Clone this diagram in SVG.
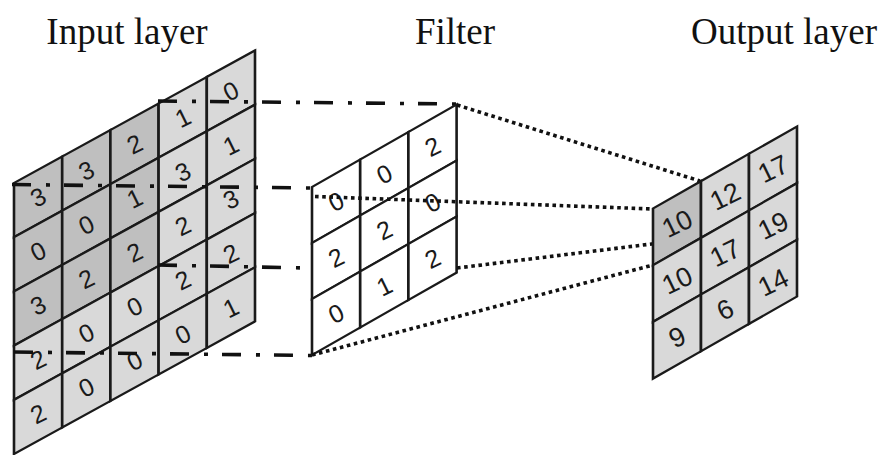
<svg xmlns="http://www.w3.org/2000/svg" width="888" height="455" viewBox="0 0 888 455">
  <style>
    .title { font-family: "Liberation Serif", "Times New Roman", serif; font-size: 37px; fill: #111; text-anchor: middle; }
    .cell { stroke: #1a1a1a; stroke-width: 2.6; stroke-linejoin: miter; }
    .light { fill: #d9d9d9; }
    .dark { fill: #bfbfbf; }
    .white { fill: #ffffff; }
    .num { font-family: "Liberation Sans", Arial, sans-serif; fill: #1a1a1a; text-anchor: middle; }
    .in { font-size: 25px; }
    .out { font-size: 27px; }
    .dashdot { stroke: #111; stroke-width: 3.6; fill: none; stroke-dasharray: 19 15 4 14; }
    .dotted { stroke: #111; stroke-width: 3.6; fill: none; stroke-dasharray: 3.6 3.6; }
  </style>

  <!-- Titles -->
  <text class="title" x="127" y="44">Input layer</text>
  <text class="title" x="455" y="44">Filter</text>
  <text class="title" x="784" y="44">Output layer</text>

  <!-- Input layer: 5x5 grid on a sheared plane -->
  <g id="input-layer">
    <g transform="matrix(1,-0.55,0,1,14,183)">
      <rect class="cell dark" x="0" y="0" width="48.2" height="54.2"/>
      <rect class="cell dark" x="48.2" y="0" width="48.2" height="54.2"/>
      <rect class="cell dark" x="96.4" y="0" width="48.2" height="54.2"/>
      <rect class="cell light" x="144.6" y="0" width="48.2" height="54.2"/>
      <rect class="cell light" x="192.8" y="0" width="48.2" height="54.2"/>
      <rect class="cell dark" x="0" y="54.2" width="48.2" height="54.2"/>
      <rect class="cell dark" x="48.2" y="54.2" width="48.2" height="54.2"/>
      <rect class="cell dark" x="96.4" y="54.2" width="48.2" height="54.2"/>
      <rect class="cell light" x="144.6" y="54.2" width="48.2" height="54.2"/>
      <rect class="cell light" x="192.8" y="54.2" width="48.2" height="54.2"/>
      <rect class="cell dark" x="0" y="108.4" width="48.2" height="54.2"/>
      <rect class="cell dark" x="48.2" y="108.4" width="48.2" height="54.2"/>
      <rect class="cell dark" x="96.4" y="108.4" width="48.2" height="54.2"/>
      <rect class="cell light" x="144.6" y="108.4" width="48.2" height="54.2"/>
      <rect class="cell light" x="192.8" y="108.4" width="48.2" height="54.2"/>
      <rect class="cell light" x="0" y="162.6" width="48.2" height="54.2"/>
      <rect class="cell light" x="48.2" y="162.6" width="48.2" height="54.2"/>
      <rect class="cell light" x="96.4" y="162.6" width="48.2" height="54.2"/>
      <rect class="cell light" x="144.6" y="162.6" width="48.2" height="54.2"/>
      <rect class="cell light" x="192.8" y="162.6" width="48.2" height="54.2"/>
      <rect class="cell light" x="0" y="216.8" width="48.2" height="54.2"/>
      <rect class="cell light" x="48.2" y="216.8" width="48.2" height="54.2"/>
      <rect class="cell light" x="96.4" y="216.8" width="48.2" height="54.2"/>
      <rect class="cell light" x="144.6" y="216.8" width="48.2" height="54.2"/>
      <rect class="cell light" x="192.8" y="216.8" width="48.2" height="54.2"/>
    </g>
    <!-- values, row by row -->
    <g class="num in">
      <text transform="translate(38.1,196.8) rotate(-26)" dy="0.36em">3</text>
      <text transform="translate(86.3,170.3) rotate(-26)" dy="0.36em">3</text>
      <text transform="translate(134.5,143.8) rotate(-26)" dy="0.36em">2</text>
      <text transform="translate(182.7,117.3) rotate(-26)" dy="0.36em">1</text>
      <text transform="translate(230.9,90.8) rotate(-26)" dy="0.36em">0</text>

      <text transform="translate(38.1,251) rotate(-26)" dy="0.36em">0</text>
      <text transform="translate(86.3,224.5) rotate(-26)" dy="0.36em">0</text>
      <text transform="translate(134.5,198) rotate(-26)" dy="0.36em">1</text>
      <text transform="translate(182.7,171.5) rotate(-26)" dy="0.36em">3</text>
      <text transform="translate(230.9,145) rotate(-26)" dy="0.36em">1</text>

      <text transform="translate(38.1,305.2) rotate(-26)" dy="0.36em">3</text>
      <text transform="translate(86.3,278.7) rotate(-26)" dy="0.36em">2</text>
      <text transform="translate(134.5,252.2) rotate(-26)" dy="0.36em">2</text>
      <text transform="translate(182.7,225.7) rotate(-26)" dy="0.36em">2</text>
      <text transform="translate(230.9,199.2) rotate(-26)" dy="0.36em">3</text>

      <text transform="translate(38.1,359.4) rotate(-26)" dy="0.36em">2</text>
      <text transform="translate(86.3,332.9) rotate(-26)" dy="0.36em">0</text>
      <text transform="translate(134.5,306.4) rotate(-26)" dy="0.36em">0</text>
      <text transform="translate(182.7,279.9) rotate(-26)" dy="0.36em">2</text>
      <text transform="translate(230.9,253.4) rotate(-26)" dy="0.36em">2</text>

      <text transform="translate(38.1,413.6) rotate(-26)" dy="0.36em">2</text>
      <text transform="translate(86.3,387.1) rotate(-26)" dy="0.36em">0</text>
      <text transform="translate(134.5,360.6) rotate(-26)" dy="0.36em">0</text>
      <text transform="translate(182.7,334.1) rotate(-26)" dy="0.36em">0</text>
      <text transform="translate(230.9,307.6) rotate(-26)" dy="0.36em">1</text>
    </g>
  </g>

  <!-- Projection of the 3x3 receptive field onto the filter -->
  <g id="connectors-input-filter">
    <line class="dashdot" x1="158" y1="101" x2="457" y2="104"/>
    <line class="dashdot" x1="12" y1="184.5" x2="312" y2="188"/>
    <line class="dashdot" x1="158" y1="265" x2="457" y2="271"/>
    <line class="dashdot" x1="14" y1="352" x2="312" y2="355.5"/>
  </g>

  <!-- Filter: 3x3 kernel -->
  <g id="filter">
    <g transform="matrix(1,-0.57,0,1,312,187)">
      <rect class="cell white" x="0" y="0" width="48.2" height="56"/>
      <rect class="cell white" x="48.2" y="0" width="48.2" height="56"/>
      <rect class="cell white" x="96.4" y="0" width="48.2" height="56"/>
      <rect class="cell white" x="0" y="56" width="48.2" height="56"/>
      <rect class="cell white" x="48.2" y="56" width="48.2" height="56"/>
      <rect class="cell white" x="96.4" y="56" width="48.2" height="56"/>
      <rect class="cell white" x="0" y="112" width="48.2" height="56"/>
      <rect class="cell white" x="48.2" y="112" width="48.2" height="56"/>
      <rect class="cell white" x="96.4" y="112" width="48.2" height="56"/>
    </g>
    <g class="num in">
      <text transform="translate(336.1,201.3) rotate(-26)" dy="0.36em">0</text>
      <text transform="translate(384.3,173.8) rotate(-26)" dy="0.36em">0</text>
      <text transform="translate(432.5,146.3) rotate(-26)" dy="0.36em">2</text>
      <text transform="translate(336.1,257.3) rotate(-26)" dy="0.36em">2</text>
      <text transform="translate(384.3,229.8) rotate(-26)" dy="0.36em">2</text>
      <text transform="translate(432.5,202.3) rotate(-26)" dy="0.36em">0</text>
      <text transform="translate(336.1,313.3) rotate(-26)" dy="0.36em">0</text>
      <text transform="translate(384.3,285.8) rotate(-26)" dy="0.36em">1</text>
      <text transform="translate(432.5,258.3) rotate(-26)" dy="0.36em">2</text>
    </g>
  </g>

  <!-- Filter mapped onto the first output cell -->
  <g id="connectors-filter-output">
    <line class="dotted" x1="457" y1="105" x2="700" y2="181"/>
    <line class="dotted" x1="315" y1="196.5" x2="653" y2="209"/>
    <line class="dotted" x1="457" y1="268" x2="700" y2="238"/>
    <line class="dotted" x1="312" y1="355" x2="653" y2="265"/>
  </g>

  <!-- Output layer: 3x3 feature map -->
  <g id="output-layer">
    <g transform="matrix(1,-0.57,0,1,653,208.5)">
      <rect class="cell dark" x="0" y="0" width="48" height="56.7"/>
      <rect class="cell light" x="48" y="0" width="48" height="56.7"/>
      <rect class="cell light" x="96" y="0" width="48" height="56.7"/>
      <rect class="cell light" x="0" y="56.7" width="48" height="56.7"/>
      <rect class="cell light" x="48" y="56.7" width="48" height="56.7"/>
      <rect class="cell light" x="96" y="56.7" width="48" height="56.7"/>
      <rect class="cell light" x="0" y="113.4" width="48" height="56.7"/>
      <rect class="cell light" x="48" y="113.4" width="48" height="56.7"/>
      <rect class="cell light" x="96" y="113.4" width="48" height="56.7"/>
    </g>
    <g class="num out">
      <text transform="translate(677,223.2) rotate(-26)" dy="0.36em">10</text>
      <text transform="translate(725,195.8) rotate(-26)" dy="0.36em">12</text>
      <text transform="translate(773,168.5) rotate(-26)" dy="0.36em">17</text>
      <text transform="translate(677,279.9) rotate(-26)" dy="0.36em">10</text>
      <text transform="translate(725,252.5) rotate(-26)" dy="0.36em">17</text>
      <text transform="translate(773,225.2) rotate(-26)" dy="0.36em">19</text>
      <text transform="translate(677,336.6) rotate(-26)" dy="0.36em">9</text>
      <text transform="translate(725,309.2) rotate(-26)" dy="0.36em">6</text>
      <text transform="translate(773,281.9) rotate(-26)" dy="0.36em">14</text>
    </g>
  </g>
</svg>
